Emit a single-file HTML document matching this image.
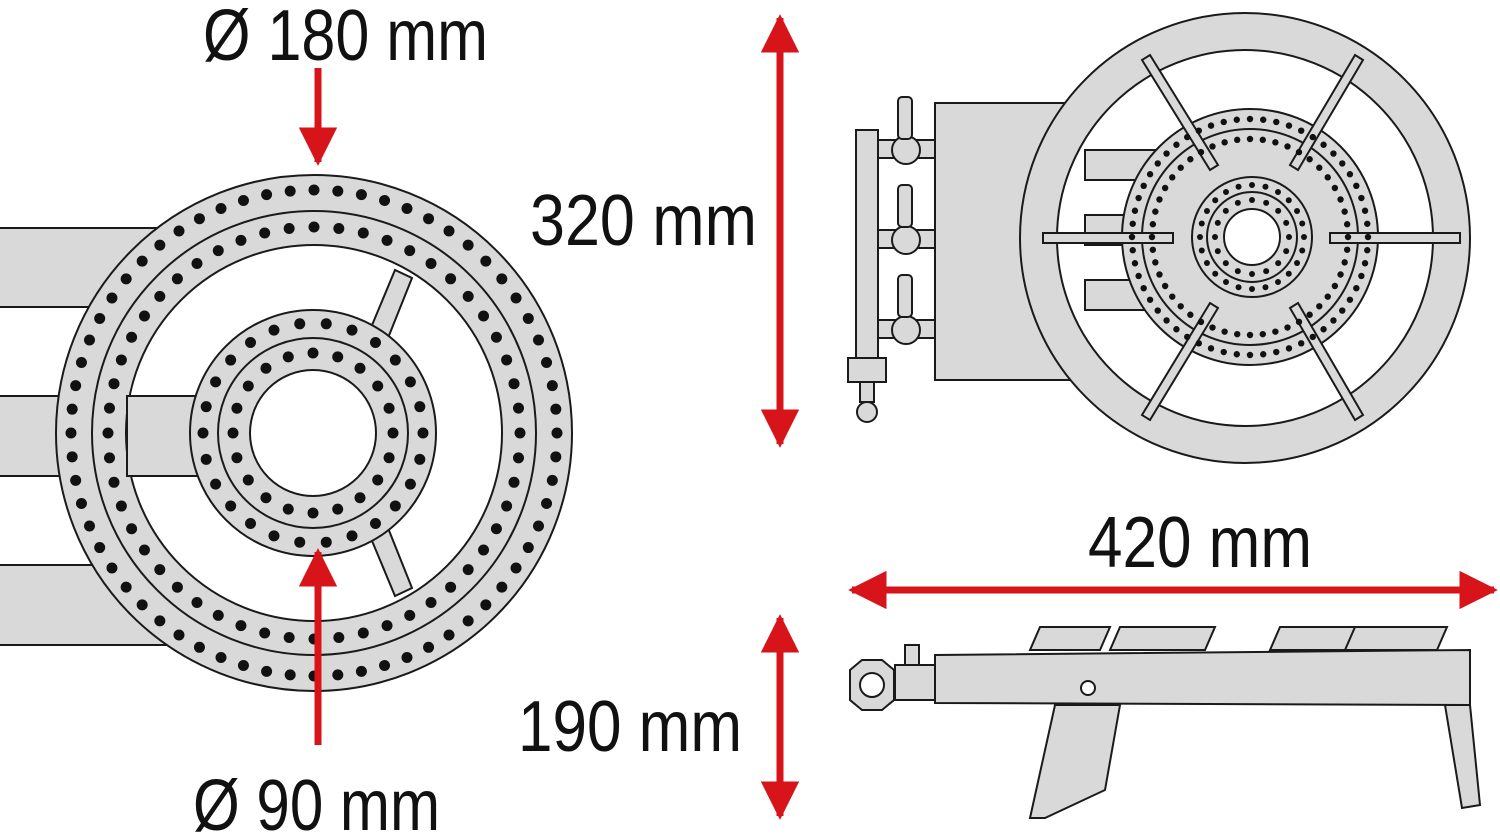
<!DOCTYPE html>
<html><head><meta charset="utf-8"><style>
html,body{margin:0;padding:0;background:#fff;}
svg{display:block}
text{font-family:"Liberation Sans",sans-serif;fill:#111;}
</style></head><body>
<svg id="s" width="1500" height="838" viewBox="0 0 1500 838" xmlns="http://www.w3.org/2000/svg">
<defs>
<marker id="ah" viewBox="0 0 10 10" refX="9" refY="5" markerWidth="5.5" markerHeight="5.5" orient="auto-start-reverse"><path d="M0,0 L10,5 L0,10 z" fill="#d7141a"/></marker>
</defs>
<g stroke="#1a1a1a" stroke-width="2" fill="#d9d9d9">
<rect x="-5" y="228" width="200" height="79"/>
<rect x="-5" y="396" width="200" height="80"/>
<rect x="-5" y="565" width="200" height="80"/>
<circle cx="314" cy="433" r="258"/>
<circle cx="314" cy="433" r="222" fill="none"/>
<circle cx="314" cy="433" r="188" fill="#fff"/>
<rect x="127" y="396" width="130" height="80"/>
<polygon points="370,330 395,270 412,278 388,338"/>
<polygon points="370,536 395,596 412,588 388,528"/>
<circle cx="313" cy="433" r="123"/>
<circle cx="313" cy="433" r="95" fill="none"/>
<circle cx="313" cy="433" r="63" fill="#fff"/>

<rect x="935" y="103" width="140" height="277"/>
<rect x="856" y="130" width="22" height="240"/>
<rect x="878" y="140" width="57" height="18"/><rect x="878" y="230" width="57" height="18"/><rect x="878" y="320" width="57" height="18"/>
<circle cx="906" cy="150" r="14"/><circle cx="906" cy="240" r="14"/><circle cx="906" cy="330" r="14"/>
<rect x="898" y="97" width="14" height="42" rx="4"/><rect x="898" y="185" width="14" height="42" rx="4"/><rect x="898" y="275" width="14" height="42" rx="4"/>
<rect x="848" y="358" width="38" height="24"/>
<rect x="860" y="382" width="14" height="20"/><circle cx="867" cy="412" r="10"/>
<circle cx="1245" cy="238" r="225"/>
<circle cx="1245" cy="238" r="188" fill="#fff"/>
<rect x="1085" y="150" width="70" height="30" fill="#d9d9d9"/>
<rect x="1085" y="215" width="70" height="30" fill="#d9d9d9"/>
<rect x="1085" y="280" width="70" height="30" fill="#d9d9d9"/>
<circle cx="1250" cy="237" r="128"/>
<circle cx="1250" cy="237" r="108" fill="none"/>
<circle cx="1252" cy="237" r="60"/>
<circle cx="1252" cy="237" r="45" fill="none"/>
<circle cx="1252" cy="237" r="28" fill="#fff"/>
<rect x="1043" y="233" width="130" height="10"/>
<rect x="1330" y="233" width="130" height="10"/>
<polygon points="1142,60 1150,55 1218,165 1210,170"/>
<polygon points="1355,55 1363,60 1298,170 1290,165"/>
<polygon points="1142,415 1150,420 1218,308 1210,303"/>
<polygon points="1355,420 1363,415 1298,303 1290,308"/>

<polygon points="1030,650 1040,627 1110,627 1100,650"/>
<polygon points="1110,650 1120,627 1215,627 1205,650"/>
<polygon points="1270,650 1280,627 1375,627 1365,650"/>
<polygon points="1345,650 1355,627 1447,627 1437,650"/>
<polygon points="935,655 1470,650 1470,705 935,703"/>
<polygon points="1055,705 1120,705 1105,790 1045,818 1030,818"/>
<polygon points="1445,705 1470,705 1480,805 1462,808"/>
<rect x="895" y="665" width="40" height="35"/>
<rect x="905" y="645" width="14" height="20"/>
<polygon points="850,670 862,660 882,660 894,670 894,700 882,710 862,710 850,700"/>
<circle cx="872" cy="685" r="12" fill="#fff"/>
<circle cx="1088" cy="688" r="7" fill="#fff"/>
</g>
<g id="holes" fill="#111"></g>

<g stroke="#d7141a" stroke-width="7" fill="none">
<line x1="318" y1="68" x2="318" y2="162" marker-end="url(#ah)"/>
<line x1="318" y1="745" x2="318" y2="552" marker-end="url(#ah)"/>
<line x1="780" y1="18" x2="780" y2="444" marker-start="url(#ah)" marker-end="url(#ah)"/>
<line x1="780" y1="618" x2="780" y2="816" marker-start="url(#ah)" marker-end="url(#ah)"/>
<line x1="852" y1="590" x2="1494" y2="590" marker-start="url(#ah)" marker-end="url(#ah)"/>
</g>

<text x="203" y="60" font-size="72" textLength="285" lengthAdjust="spacingAndGlyphs">Ø 180 mm</text>
<text x="530" y="245" font-size="72" textLength="227" lengthAdjust="spacingAndGlyphs">320 mm</text>
<text x="1088" y="567" font-size="72" textLength="224" lengthAdjust="spacingAndGlyphs">420 mm</text>
<text x="518" y="751" font-size="72" textLength="224" lengthAdjust="spacingAndGlyphs">190 mm</text>
<text x="193" y="830" font-size="72" textLength="247" lengthAdjust="spacingAndGlyphs">Ø 90 mm</text>
</svg>
<script>
var g=document.getElementById('holes'),ns='http://www.w3.org/2000/svg';
function ring(cx,cy,r,n,rad){for(var i=0;i<n;i++){var a=2*Math.PI*i/n;var c=document.createElementNS(ns,'circle');c.setAttribute('cx',cx+r*Math.cos(a));c.setAttribute('cy',cy+r*Math.sin(a));c.setAttribute('r',rad);g.appendChild(c);}}
ring(314,433,243,64,5.5);ring(314,433,206,52,5.5);
ring(313,433,110,26,5.5);ring(313,433,80,20,5.5);
ring(1250,237,118,56,3.2);ring(1250,237,98,48,3.2);
ring(1252,237,52,24,3);ring(1252,237,37,16,3);
</script>
</body></html>
